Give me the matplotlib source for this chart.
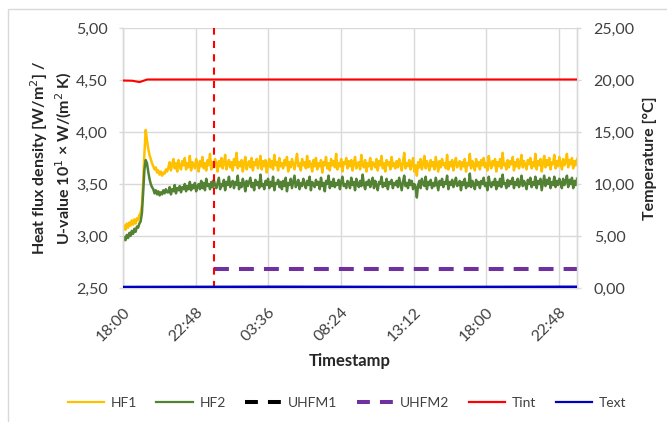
import numpy as np
import pandas as pd
import matplotlib
matplotlib.use("Agg")
import matplotlib.pyplot as plt
import matplotlib.dates as mdates
from matplotlib.patches import Rectangle
from matplotlib.lines import Line2D

plt.rcParams["font.family"] = ["Lato", "DejaVu Sans"]

# ---- data -------------------------------------------------------------
START = pd.Timestamp("2021-01-01 18:00")
STEP_MIN = 5  # logger interval for heat-flux plates [min]

# Heat flux plate 1 [W/m²]
HF1 = [
    3.07, 3.10, 3.06, 3.12, 3.08, 3.13, 3.10, 3.15, 3.11, 3.16, 3.12, 3.17,
    3.15, 3.20, 3.22, 3.30, 3.52, 3.80, 4.02, 3.92, 3.84, 3.78, 3.74, 3.70,
    3.67, 3.64, 3.66, 3.61, 3.63, 3.59, 3.62, 3.58, 3.61, 3.60, 3.64, 3.62,
    3.66, 3.71, 3.63, 3.69, 3.74, 3.65, 3.70, 3.62, 3.73, 3.67, 3.64, 3.72, 3.68,
    3.75, 3.64, 3.70, 3.66, 3.77, 3.63, 3.71, 3.68, 3.65, 3.74, 3.69, 3.62, 3.72,
    3.67, 3.76, 3.65, 3.70, 3.63, 3.73, 3.68, 3.79, 3.64, 3.71, 3.66, 3.74, 3.69,
    3.62, 3.72, 3.67, 3.75, 3.65, 3.70, 3.78, 3.64, 3.69, 3.73, 3.66, 3.71, 3.63,
    3.74, 3.68, 3.80, 3.65, 3.71, 3.67, 3.73, 3.62, 3.70, 3.76, 3.64, 3.69, 3.72,
    3.66, 3.75, 3.63, 3.71, 3.68, 3.74, 3.65, 3.70, 3.77, 3.64, 3.72, 3.67, 3.73,
    3.61, 3.69, 3.74, 3.66, 3.72, 3.64, 3.78, 3.68, 3.71, 3.63, 3.75, 3.67, 3.70,
    3.65, 3.73, 3.68, 3.76, 3.62, 3.71, 3.66, 3.74, 3.69, 3.64, 3.72, 3.79, 3.67,
    3.70, 3.63, 3.74, 3.68, 3.71, 3.65, 3.77, 3.66, 3.72, 3.69, 3.62, 3.73, 3.67,
    3.75, 3.64, 3.70, 3.67, 3.73, 3.61, 3.71, 3.68, 3.76, 3.65, 3.70, 3.63, 3.74,
    3.68, 3.72, 3.66, 3.79, 3.64, 3.70, 3.67, 3.74, 3.62, 3.71, 3.69, 3.75, 3.65,
    3.72, 3.67, 3.73, 3.63, 3.70, 3.76, 3.65, 3.69, 3.71, 3.64, 3.78, 3.68, 3.66,
    3.73, 3.62, 3.70, 3.67, 3.75, 3.64, 3.71, 3.69, 3.66, 3.74, 3.63, 3.72, 3.68,
    3.77, 3.65, 3.70, 3.62, 3.73, 3.68, 3.71, 3.64, 3.76, 3.67, 3.70, 3.65, 3.72,
    3.66, 3.74, 3.69, 3.63, 3.71, 3.80, 3.65, 3.70, 3.67, 3.73, 3.64, 3.69, 3.75,
    3.62, 3.68, 3.58, 3.71, 3.66, 3.74, 3.64, 3.70, 3.77, 3.65, 3.72, 3.68, 3.63,
    3.73, 3.67, 3.71, 3.64, 3.76, 3.69, 3.62, 3.72, 3.66, 3.74, 3.68, 3.70, 3.65,
    3.78, 3.64, 3.71, 3.67, 3.73, 3.63, 3.70, 3.75, 3.66, 3.69, 3.72, 3.64, 3.71,
    3.67, 3.74, 3.62, 3.70, 3.68, 3.79, 3.65, 3.72, 3.69, 3.63, 3.74, 3.67, 3.71,
    3.64, 3.73, 3.68, 3.75, 3.66, 3.70, 3.63, 3.77, 3.69, 3.65, 3.72, 3.68, 3.74,
    3.62, 3.71, 3.67, 3.74, 3.65, 3.80, 3.68, 3.70, 3.64, 3.73, 3.66, 3.72, 3.69,
    3.76, 3.63, 3.71, 3.67, 3.74, 3.65, 3.70, 3.78, 3.66, 3.72, 3.68, 3.64, 3.73,
    3.69, 3.75, 3.65, 3.71, 3.67, 3.79, 3.64, 3.72, 3.68, 3.74, 3.62, 3.70, 3.77,
    3.66, 3.73, 3.68, 3.75, 3.64, 3.71, 3.69, 3.78, 3.65, 3.72, 3.67, 3.76, 3.70,
    3.64, 3.74, 3.68, 3.71, 3.79, 3.66, 3.73, 3.69, 3.75, 3.65, 3.72, 3.68, 3.74,
]

# Heat flux plate 2 [W/m²]
HF2 = [
    2.95, 2.99, 2.96, 3.01, 2.98, 3.03, 3.00, 3.05, 3.02, 3.07, 3.04, 3.09,
    3.08, 3.12, 3.14, 3.22, 3.42, 3.64, 3.73, 3.70, 3.62, 3.55, 3.50, 3.47,
    3.45, 3.41, 3.44, 3.40, 3.43, 3.39, 3.42, 3.40, 3.44, 3.41, 3.45, 3.42,
    3.42, 3.47, 3.40, 3.45, 3.43, 3.49, 3.41, 3.46, 3.44, 3.48, 3.42, 3.47, 3.45,
    3.50, 3.43, 3.48, 3.45, 3.52, 3.44, 3.49, 3.46, 3.51, 3.43, 3.48, 3.50, 3.45,
    3.53, 3.46, 3.51, 3.44, 3.55, 3.48, 3.50, 3.45, 3.52, 3.47, 3.54, 3.49, 3.46,
    3.51, 3.56, 3.45, 3.50, 3.48, 3.54, 3.44, 3.52, 3.49, 3.57, 3.47, 3.51, 3.53,
    3.46, 3.52, 3.49, 3.58, 3.45, 3.51, 3.47, 3.55, 3.50, 3.43, 3.53, 3.48, 3.52,
    3.56, 3.47, 3.51, 3.44, 3.54, 3.49, 3.52, 3.46, 3.59, 3.48, 3.50, 3.45, 3.53,
    3.49, 3.55, 3.46, 3.52, 3.48, 3.57, 3.44, 3.51, 3.50, 3.54, 3.47, 3.52, 3.45,
    3.53, 3.48, 3.56, 3.43, 3.51, 3.49, 3.55, 3.46, 3.52, 3.58, 3.47, 3.50, 3.54,
    3.45, 3.51, 3.48, 3.55, 3.50, 3.46, 3.53, 3.49, 3.57, 3.44, 3.52, 3.50, 3.47,
    3.54, 3.49, 3.52, 3.45, 3.56, 3.48, 3.51, 3.43, 3.53, 3.50, 3.58, 3.46, 3.52,
    3.48, 3.55, 3.47, 3.51, 3.49, 3.54, 3.45, 3.52, 3.57, 3.48, 3.50, 3.46, 3.53,
    3.51, 3.46, 3.56, 3.49, 3.52, 3.44, 3.55, 3.50, 3.47, 3.53, 3.48, 3.59, 3.50,
    3.45, 3.52, 3.49, 3.54, 3.47, 3.51, 3.56, 3.46, 3.53, 3.49, 3.44, 3.52, 3.50,
    3.57, 3.47, 3.51, 3.48, 3.55, 3.45, 3.52, 3.50, 3.54, 3.46, 3.51, 3.49, 3.53,
    3.47, 3.56, 3.50, 3.44, 3.52, 3.58, 3.48, 3.51, 3.46, 3.54, 3.49, 3.53, 3.45,
    3.50, 3.47, 3.37, 3.49, 3.53, 3.46, 3.55, 3.50, 3.48, 3.57, 3.45, 3.52, 3.49,
    3.54, 3.46, 3.51, 3.48, 3.56, 3.50, 3.44, 3.53, 3.49, 3.55, 3.47, 3.52, 3.50,
    3.58, 3.45, 3.52, 3.49, 3.54, 3.47, 3.51, 3.56, 3.48, 3.50, 3.53, 3.44, 3.52,
    3.49, 3.55, 3.46, 3.51, 3.48, 3.60, 3.47, 3.53, 3.50, 3.45, 3.54, 3.49, 3.52,
    3.46, 3.53, 3.50, 3.56, 3.48, 3.51, 3.44, 3.57, 3.50, 3.47, 3.52, 3.49, 3.55,
    3.45, 3.52, 3.48, 3.55, 3.47, 3.59, 3.50, 3.51, 3.46, 3.54, 3.48, 3.53, 3.50,
    3.56, 3.46, 3.52, 3.49, 3.55, 3.47, 3.51, 3.58, 3.48, 3.53, 3.50, 3.45, 3.54,
    3.50, 3.56, 3.47, 3.52, 3.49, 3.57, 3.46, 3.53, 3.50, 3.55, 3.44, 3.51, 3.58,
    3.48, 3.54, 3.50, 3.56, 3.46, 3.52, 3.49, 3.57, 3.47, 3.53, 3.49, 3.55, 3.51,
    3.46, 3.55, 3.49, 3.52, 3.58, 3.47, 3.54, 3.50, 3.56, 3.46, 3.53, 3.49, 3.55,
]

# U-value from the heat flux meters [10^1 W/(m² K)], hours after start
UHFM_HOURS = [6.0, 30.0]
UHFM1 = []
UHFM2 = [2.68, 2.68]

# Air temperatures [°C], hours after start
TINT_HOURS = [0.0, 0.6, 1.1, 1.6, 30.0]
TINT = [19.95, 19.93, 19.80, 20.05, 20.05]
TEXT_HOURS = [0.0, 10.0, 20.0, 30.0]
TEXT = [0.10, 0.12, 0.10, 0.12]

# start of the U-value evaluation [h after start]
EVAL_START_H = 6.0

X_TICK_STEP_MIN = 288  # 4.8 h
X_SPAN_H = 30

# ---- figure -----------------------------------------------------------
W, H = 667, 422
fig = plt.figure(figsize=(W / 100, H / 100), dpi=100)
fig.patch.set_facecolor("white")

# chart frame
fig.add_artist(Rectangle((8 / W, -0.1), 1.2, 1 - 9 / H + 0.1,
                         transform=fig.transFigure, fill=False,
                         edgecolor="#D9D9D9", linewidth=1.0))

ax = fig.add_axes([123 / W, 1 - 288 / H, (577 - 123) / W, (288 - 28) / H])
ax2 = ax.twinx()

t_hf = pd.date_range(START, periods=len(HF1), freq=f"{STEP_MIN}min")
to_t = lambda hrs: [START + pd.Timedelta(hours=h) for h in hrs]

grid_c = "#D9D9D9"
c_hf1, c_hf2 = "#FFC000", "#548235"
c_u1, c_u2 = "#000000", "#7030A0"
c_tint, c_text = "#FF0000", "#0000C0"

ax.plot(t_hf, HF1, color=c_hf1, lw=1.8, zorder=3)
ax.plot(t_hf, HF2, color=c_hf2, lw=1.8, zorder=4)
ax.plot(to_t(UHFM_HOURS[:len(UHFM1)]), UHFM1, color=c_u1, lw=2.9,
        dashes=(3.7, 2.5), zorder=5)
ax.plot(to_t(UHFM_HOURS), UHFM2, color=c_u2, lw=2.9, dashes=(3.7, 2.5),
        dash_capstyle="butt", zorder=6)

ax2.plot(to_t(TINT_HOURS), TINT, color=c_tint, lw=1.5, zorder=3)
ax2.plot(to_t(TEXT_HOURS), TEXT, color=c_text, lw=1.8, zorder=3)

x0, x1 = START, START + pd.Timedelta(hours=X_SPAN_H)
ev = START + pd.Timedelta(hours=EVAL_START_H)
ax.axvline(ev, color="#FF0000", lw=1.5, dashes=(3.4, 3.0), zorder=7)

ax.set_xlim(x0, x1)
ax.set_ylim(2.5, 5.0)
ax2.set_ylim(0, 25)
ax.set_yticks(np.arange(2.5, 5.01, 0.5))
ax2.set_yticks(np.arange(0, 25.01, 5))
ax.set_xticks(pd.date_range(x0, x1, freq=f"{X_TICK_STEP_MIN}min"))
ax.xaxis.set_major_formatter(mdates.DateFormatter("%H:%M"))

fmt = lambda v, p: f"{v:.2f}".replace(".", ",")
ax.yaxis.set_major_formatter(plt.FuncFormatter(fmt))
ax2.yaxis.set_major_formatter(plt.FuncFormatter(fmt))

ax.grid(True, color=grid_c, lw=1.0, zorder=0)
ax.set_axisbelow(True)
for a in (ax, ax2):
    for s in a.spines.values():
        s.set_color(grid_c)
        s.set_linewidth(1.0)
    a.spines["top"].set_visible(False)

tick_c = "#404040"
ax.tick_params(axis="y", length=3, width=1, color=grid_c, pad=8,
               labelsize=11.5, labelcolor=tick_c)
ax2.tick_params(axis="y", length=3, width=1, color=grid_c, pad=9,
                labelsize=11.5, labelcolor=tick_c)
ax.tick_params(axis="x", length=0, pad=12, labelsize=11.5, labelcolor=tick_c)
for lbl in ax.get_xticklabels():
    lbl.set_rotation(45)
    lbl.set_ha("right")
    lbl.set_va("top")
    lbl.set_rotation_mode("anchor")

title_c = "#262626"
fig.text(51 / W, 1 - 158 / H,
         "Heat flux density [W/m$^2$] /\nU-value 10$^1$ × W/(m$^2$ K)",
         rotation=90, ha="center", va="center", fontsize=11.5,
         fontweight="bold", color=title_c, linespacing=1.2)
fig.text(650 / W, 1 - 158 / H, "Temperature [°C]", rotation=90,
         ha="center", va="center", fontsize=11.5, fontweight="bold",
         color=title_c)
fig.text(350 / W, 1 - 361 / H, "Timestamp", ha="center", va="center",
         fontsize=12, fontweight="bold", color=title_c)

handles = [
    Line2D([], [], color=c_hf1, lw=1.6),
    Line2D([], [], color=c_hf2, lw=1.6),
    Line2D([], [], color=c_u1, lw=2.9, dashes=(3.2, 2.5)),
    Line2D([], [], color=c_u2, lw=2.9, dashes=(3.2, 2.5)),
    Line2D([], [], color=c_tint, lw=1.6),
    Line2D([], [], color=c_text, lw=1.6),
]
labels = ["HF1", "HF2", "UHFM1", "UHFM2", "Tint", "Text"]
fig.legend(handles, labels, loc="center", ncol=6,
           bbox_to_anchor=(347 / W, 1 - 403 / H), frameon=False,
           fontsize=10, handlelength=2.6, handletextpad=0.5,
           columnspacing=1.4, labelcolor=tick_c)

fig.savefig("out.png", dpi=100, facecolor="white")
